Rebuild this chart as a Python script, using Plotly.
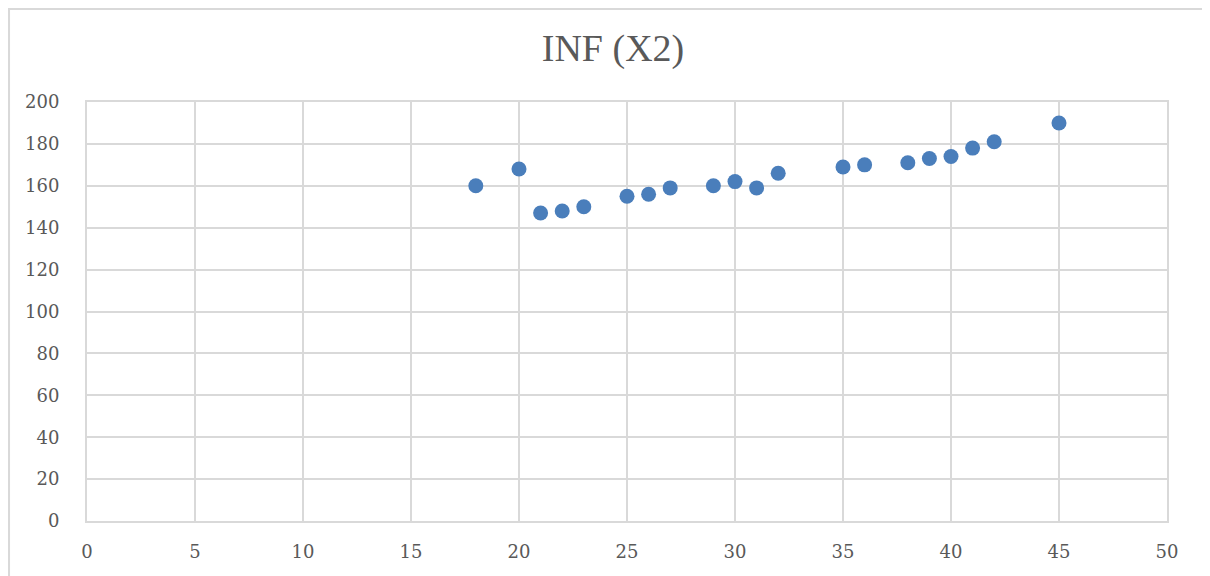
import plotly.graph_objects as go

age = [18, 20, 21, 22, 23, 25, 26, 27, 29, 30, 31, 32, 35, 36, 38, 39, 40, 41, 42, 45]
inf_x2 = [160, 168, 147, 148, 150, 155, 156, 159, 160, 162, 159, 166,
          169, 170, 171, 173, 174, 178, 181, 190]

x_ticks = list(range(0, 51, 5))
y_ticks = list(range(0, 201, 20))

tick_font = "DejaVu Serif"
title_font = "Liberation Serif"
grey = "#595959"
grid = "#d9d9d9"

fig = go.Figure(
    go.Scatter(
        x=age,
        y=inf_x2,
        mode="markers",
        marker=dict(color="#4a7ebb", size=15),
        showlegend=False,
    )
)

# the page body adds 8px on the left and top, margins account for it
fig.update_layout(
    width=1210,
    height=576,
    margin=dict(l=79, r=51, t=94, b=63),
    paper_bgcolor="white",
    plot_bgcolor="white",
    font=dict(family=tick_font, color=grey, size=18),
    title=dict(
        text="INF (X2)",
        x=0.5,
        xanchor="center",
        y=0.9306,
        yanchor="middle",
        font=dict(family=title_font, size=38, color=grey),
    ),
)
fig.update_xaxes(
    range=[0, 50],
    tickvals=x_ticks,
    showgrid=True,
    gridcolor=grid,
    gridwidth=2,
    showline=True,
    linecolor=grid,
    linewidth=2,
    mirror=True,
    zeroline=False,
    ticks="",
    ticklabelstandoff=13,
)
fig.update_yaxes(
    range=[0, 200],
    tickvals=y_ticks,
    showgrid=True,
    gridcolor=grid,
    gridwidth=2,
    showline=True,
    linecolor=grid,
    linewidth=2,
    mirror=True,
    zeroline=False,
    ticks="",
    ticklabelstandoff=22,
)

# outer chart frame
fig.add_shape(
    type="rect",
    xref="paper",
    yref="paper",
    x0=-0.0722,
    x1=1.0389,
    y0=-0.16,
    y1=1.2220,
    line=dict(color=grid, width=2),
    fillcolor="rgba(0,0,0,0)",
    layer="below",
)

fig.write_html("out.html")
